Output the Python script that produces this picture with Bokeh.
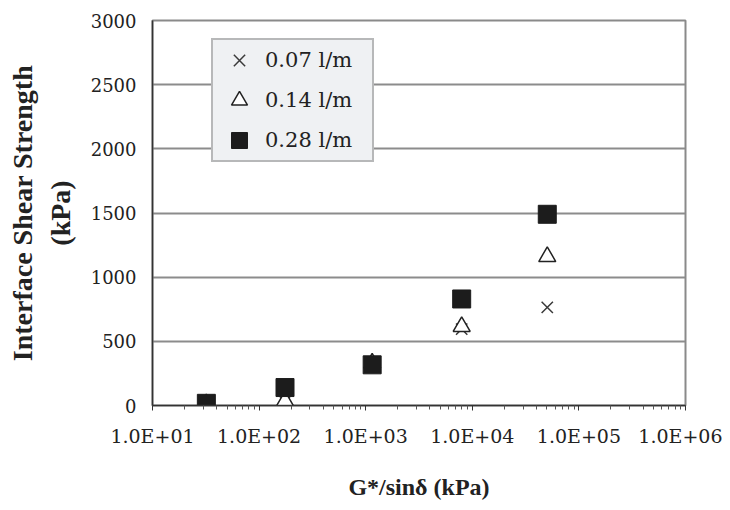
from bokeh.plotting import figure
from bokeh.models import Range1d, FixedTicker, Legend, LegendItem
from bokeh.embed import file_html
from bokeh.resources import INLINE

# ---- data ----
g_sin = [32, 175, 1150, 7950, 50500]          # G*/sin(delta), kPa
shear_007 = [10, 30, 305, 595, 765]           # 0.07 l/m
shear_014 = [12, 35, 330, 615, 1160]          # 0.14 l/m
shear_028 = [17, 140, 317, 830, 1490]         # 0.28 l/m
series_labels = ["0.07 l/m", "0.14 l/m", "0.28 l/m"]

x_ticks = [10, 100, 1000, 10000, 100000, 1000000]
x_tick_labels = ["1.0E+01", "1.0E+02", "1.0E+03", "1.0E+04", "1.0E+05", "1.0E+06"]
y_ticks = [0, 500, 1000, 1500, 2000, 2500, 3000]
y_tick_labels = ["0", "500", "1000", "1500", "2000", "2500", "3000"]

TXT = "#222222"
SERIF = "DejaVu Serif"
TITLE_FONT = "Liberation Serif"

p = figure(width=722, height=502, x_axis_type="log",
           x_range=Range1d(10, 1e6), y_range=Range1d(0, 3000),
           output_backend="svg", toolbar_location=None,
           min_border_left=152, min_border_right=37,
           min_border_top=20, min_border_bottom=96)
p.background_fill_color = "white"
p.border_fill_color = "white"
p.outline_line_color = "#8a8a8a"
p.outline_line_width = 2

# grid
p.xgrid.grid_line_color = None
p.ygrid.grid_line_color = "#8c8c8c"
p.ygrid.grid_line_width = 2

# x axis
minor = [m * 10 ** k for k in range(1, 6) for m in range(2, 10)]
p.xaxis.ticker = FixedTicker(ticks=x_ticks, minor_ticks=minor)
p.xaxis.major_label_overrides = {t: l for t, l in zip(x_ticks, x_tick_labels)}
p.xaxis.axis_line_color = "#333333"
p.xaxis.axis_line_width = 1.5
p.xaxis.major_tick_line_color = "#333333"
p.xaxis.minor_tick_line_color = "#555555"
p.xaxis.major_tick_in = 0
p.xaxis.major_tick_out = 5
p.xaxis.minor_tick_in = 0
p.xaxis.minor_tick_out = 4
p.xaxis.major_label_standoff = 14
p.xaxis.major_label_text_font = SERIF
p.xaxis.major_label_text_font_size = "19px"
p.xaxis.major_label_text_color = TXT
p.xaxis.axis_label = "G*/sinδ (kPa)"
p.xaxis.axis_label_text_font = TITLE_FONT
p.xaxis.axis_label_text_font_style = "bold"
p.xaxis.axis_label_text_font_size = "24px"
p.xaxis.axis_label_text_color = TXT
p.xaxis.axis_label_standoff = 24

# y axis
p.yaxis.ticker = FixedTicker(ticks=y_ticks)
p.yaxis.major_label_overrides = {t: l for t, l in zip(y_ticks, y_tick_labels)}
p.yaxis.axis_line_color = "#333333"
p.yaxis.axis_line_width = 1.5
p.yaxis.major_tick_in = 0
p.yaxis.major_tick_out = 0
p.yaxis.minor_tick_line_color = None
p.yaxis.major_label_standoff = 16
p.yaxis.major_label_text_font = SERIF
p.yaxis.major_label_text_font_size = "18px"
p.yaxis.major_label_text_color = TXT
p.yaxis.axis_label = "Interface Shear Strength\n(kPa)"
p.yaxis.axis_label_text_font = TITLE_FONT
p.yaxis.axis_label_text_font_style = "bold"
p.yaxis.axis_label_text_font_size = "28px"
p.yaxis.axis_label_text_color = TXT
p.yaxis.axis_label_standoff = 12

# data
r1 = p.scatter(g_sin, shear_007, marker="x", size=16,
               line_color="#3a3a3a", line_width=1.5)
r2 = p.scatter(g_sin, shear_014, marker="triangle", size=17,
               line_color="#222222", fill_color="white", line_width=1.5)
r3 = p.scatter(g_sin, shear_028, marker="square", size=18,
               line_color="#1c1c1c", fill_color="#1c1c1c")

legend = Legend(items=[LegendItem(label=series_labels[0], renderers=[r1]),
                       LegendItem(label=series_labels[1], renderers=[r2]),
                       LegendItem(label=series_labels[2], renderers=[r3])],
                location=(59, 243), padding=0, spacing=0, margin=0,
                glyph_width=52, glyph_height=40, label_height=40,
                label_width=107, label_standoff=0,
                label_text_font=SERIF, label_text_font_size="21px",
                label_text_color=TXT,
                background_fill_color="#eff1f3", background_fill_alpha=1,
                border_line_color="#808080", border_line_width=2)
p.add_layout(legend)

open("out.html", "w").write(file_html(p, INLINE))
